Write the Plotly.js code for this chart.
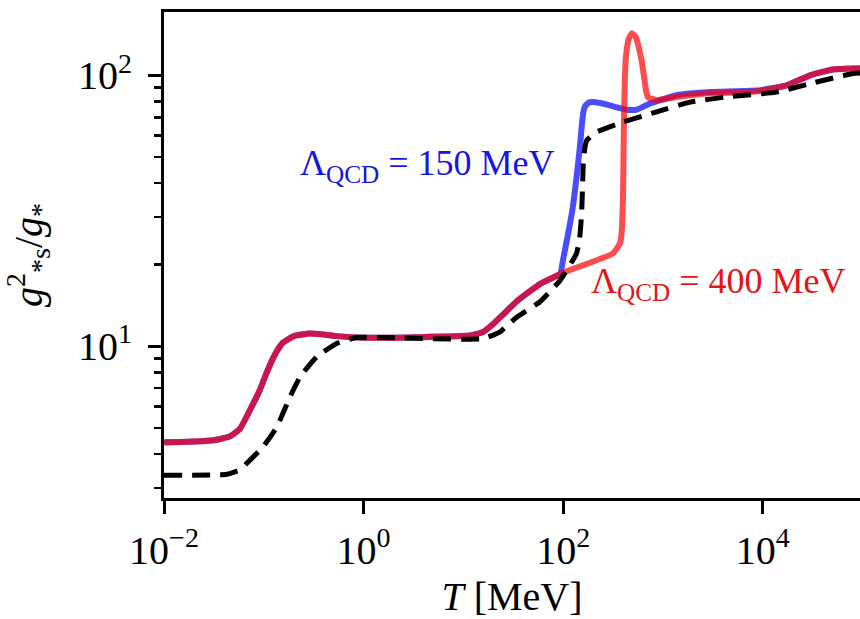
<!DOCTYPE html>
<html>
<head>
<meta charset="utf-8">
<script src="https://cdn.plot.ly/plotly-3.0.1.min.js"></script>
<style>html,body{margin:0;padding:0;background:#fff;overflow:hidden}</style>
</head>
<body>
<div id="chart" style="width:860px;height:619px"></div>
<script>
// Temperature T [MeV] and g_{*s}^2/g_*
const T_blue = [0.01,0.02,0.0316,0.0457,0.0575,0.0724,0.0912,0.107,0.129,0.155,0.2,0.288,0.398,0.537,1,3.39,11.7,15.8,19.5,23.4,33.9,44.7,58.9,75.9,93.3,
  99.5,112,125,138,147,158,166,182,200,234,275,371,447,550,631,741,1371,2958,6339,9376,17340,29720,50470,80170,100000];
const g_blue = [4.42,4.45,4.5,4.65,4.95,5.8,6.9,8.0,9.3,10.3,10.9,11.15,11.05,10.9,10.75,10.8,10.95,11.3,12.0,12.8,14.6,15.8,17.0,17.8,18.5,
  20.8,26,32.7,44,54.4,72,77,79.5,79.7,79,78,75.6,74.5,74.8,76.5,78.7,84.4,86.7,87.5,88.1,91.8,100,105,106,106];

const T_red = [0.01,0.02,0.0316,0.0457,0.0575,0.0724,0.0912,0.107,0.129,0.155,0.2,0.288,0.398,0.537,1,3.39,11.7,15.8,19.5,23.4,33.9,44.7,58.9,75.9,93.3,
  158,315,371,384,397,406,416,426,456,489,536,612,676,708,865,1371,2958,6339,9376,17340,29720,50470,80170,100000];
const g_red = [4.42,4.45,4.5,4.65,4.95,5.8,6.9,8.0,9.3,10.3,10.9,11.15,11.05,10.9,10.75,10.8,10.95,11.3,12.0,12.8,14.6,15.8,17.0,17.8,18.5,
  19.9,22.0,24.0,26,34.6,68,100,118,137,143,138,113,88,83,80.9,83.2,85.8,86.5,87.5,91.8,100,105,106,106];

const T_ref = [0.01,0.0428,0.0575,0.0675,0.098,0.135,0.183,0.231,0.339,0.537,0.853,1.56,15.7,23.3,34.2,58.6,93,136,146,153,159,165,172,217,400,865,1866,4345,13770,29720,80170,100000];
const g_ref = [3.34,3.37,3.5,3.70,4.25,5.03,6.5,7.71,9.14,10.24,10.77,10.77,10.66,11.3,12.8,14.6,17.5,22.0,25,30.9,47.2,54,57.5,61.8,67.3,73.3,79.6,83.2,86.7,93.2,101.5,102];

const xTickVals = [0.01, 1, 100, 10000];
const xTickText = ['10<sup>−2</sup>', '10<sup>0</sup>', '10<sup>2</sup>', '10<sup>4</sup>'];
const yTickVals = [10, 100];
const yTickText = ['10<sup>1</sup>', '10<sup>2</sup>'];
const yMinorVals = [3,4,5,6,7,8,9,20,30,40,50,60,70,80,90];

const labelBlue = 'Λ<sub>QCD</sub> = 150 MeV';
const labelRed = 'Λ<sub>QCD</sub> = 400 MeV';

const serif = 'Liberation Serif, DejaVu Serif, serif';

const traces = [
  {x: T_blue, y: g_blue, mode: 'lines', line: {color: 'rgba(0,0,255,0.7)', width: 6, shape: 'spline', smoothing: 0.4}, showlegend: false},
  {x: T_red, y: g_red, mode: 'lines', line: {color: 'rgba(255,0,0,0.7)', width: 6, shape: 'spline', smoothing: 0.4}, showlegend: false},
  {x: T_ref, y: g_ref, mode: 'lines', line: {color: '#000', width: 5, dash: '18px,10px', shape: 'spline', smoothing: 0.4}, showlegend: false}
];

const layout = {
  width: 860, height: 619,
  margin: {l: 164, r: 0, t: 12, b: 121},
  paper_bgcolor: '#fff', plot_bgcolor: '#fff',
  font: {family: serif, color: '#000', size: 40},
  xaxis: {
    type: 'log', range: [-2, 4.974],
    showgrid: false, zeroline: false,
    showline: true, linecolor: '#000', linewidth: 3, mirror: true,
    ticks: 'outside', ticklen: 13, tickwidth: 3, tickcolor: '#000',
    tickmode: 'array', tickvals: xTickVals, ticktext: xTickText,
    tickfont: {family: serif, size: 40}, ticklabelstandoff: 2,
    title: {text: '<i>T</i> [MeV]', font: {family: serif, size: 40}, standoff: 10}
  },
  yaxis: {
    type: 'log', range: [0.440, 2.2336],
    showgrid: false, zeroline: false,
    showline: true, linecolor: '#000', linewidth: 3, mirror: false,
    ticks: 'outside', ticklen: 13, tickwidth: 3, tickcolor: '#000',
    tickmode: 'array', tickvals: yTickVals, ticktext: yTickText,
    tickfont: {family: serif, size: 40}, ticklabelstandoff: 8,
    minor: {tickmode: 'array', tickvals: yMinorVals, ticks: 'outside', ticklen: 7, tickwidth: 2.5, tickcolor: '#000', showgrid: false},
    title: {text: '<i>g</i><sup>2</sup><sub>*s</sub>/<i>g</i><sub>*</sub>', font: {family: serif, size: 40}, standoff: 40}
  },
  annotations: [
    {xref: 'x', yref: 'y', x: 0.640, y: 1.668, text: labelBlue, showarrow: false,
     font: {family: serif, size: 36, color: '#1414e6'}, xanchor: 'center', yanchor: 'middle'},
    {xref: 'x', yref: 'y', x: 3.561, y: 1.232, text: labelRed, showarrow: false,
     font: {family: serif, size: 36, color: '#e61414'}, xanchor: 'center', yanchor: 'middle'}
  ]
};

Plotly.newPlot('chart', traces, layout, {staticPlot: true, displayModeBar: false});
</script>
</body>
</html>
